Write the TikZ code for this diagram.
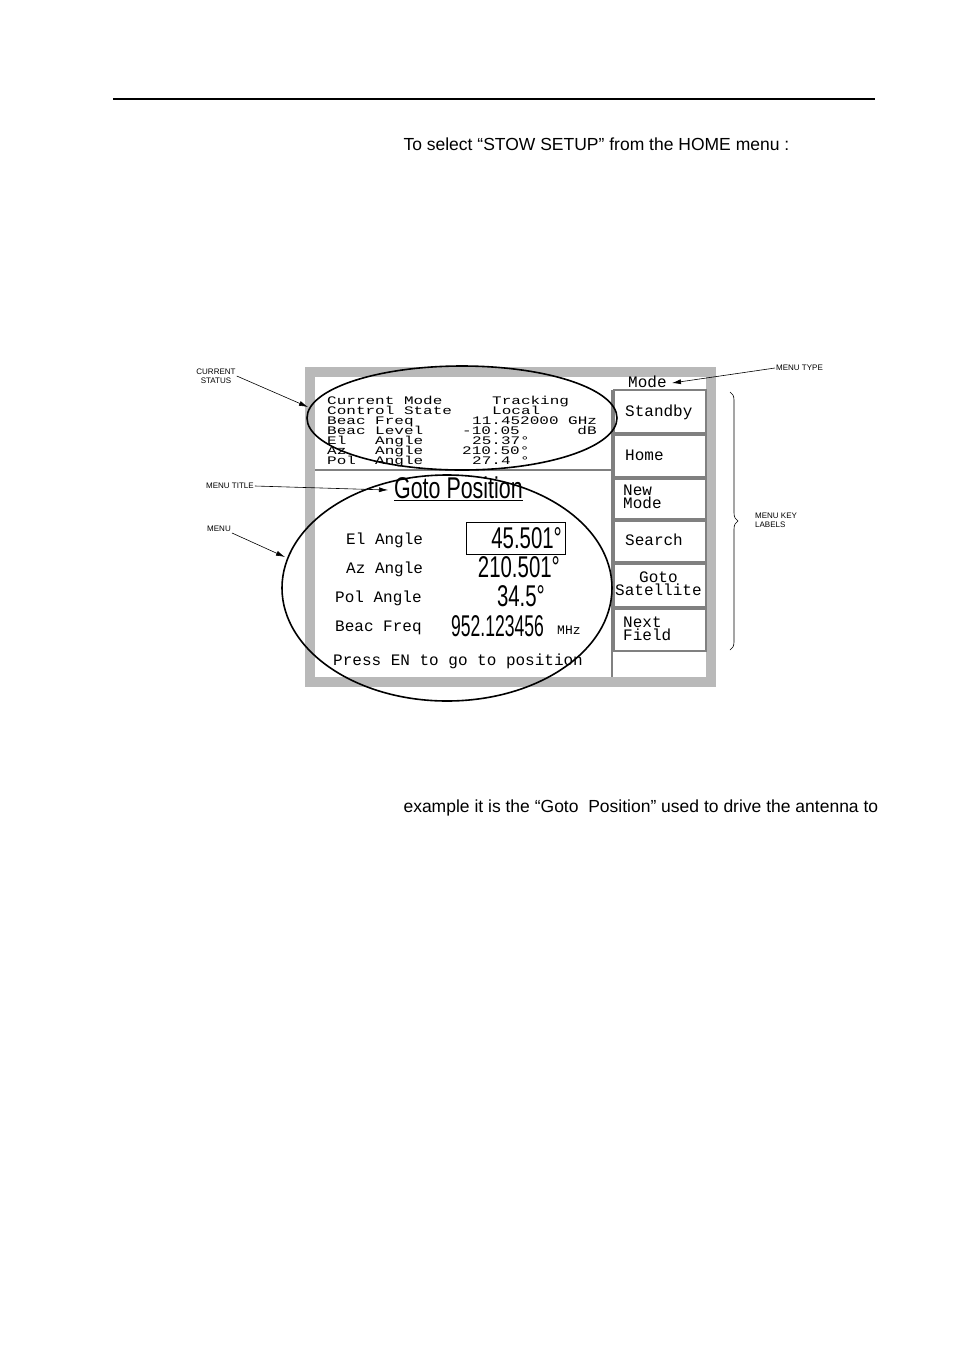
\documentclass[tikz,border=0pt]{standalone}
\usepackage{fontspec}
\setmainfont{Liberation Sans}
\newfontfamily\scrfont{Liberation Mono}
\usetikzlibrary{decorations.pathreplacing, arrows.meta}
\tikzset{
  note/.style={font=\fontsize{8}{9}\selectfont, align=center, inner sep=1pt},
  scr/.style={font=\scrfont\fontsize{16}{16}\selectfont, anchor=west, inner sep=0pt},
  twoline/.style={scr, font=\scrfont\fontsize{16}{10}\selectfont},
  stat/.style={scr, yscale=0.72, anchor=base west},
  big/.style={font=\fontsize{30}{30}\selectfont, xscale=0.68, inner sep=0pt},
  keybox/.style={draw=gray, line width=1.2pt},
  pointer/.style={-{Latex[length=9pt,width=5pt]}, semithick}
}
\begin{document}
\begin{tikzpicture}[x=1pt,y=-1pt]
        \useasboundingbox (0,0) rectangle (954,1350);

        % Rule and page texts
        \draw[line width=1.5pt] (113,99) -- (875,99);
        \node[anchor=west, font=\fontsize{17.5}{18}\selectfont] (intro) at (400,144) {To select “STOW SETUP” from the HOME menu :};
        \node[anchor=west, font=\fontsize{17.5}{18}\selectfont] (expl) at (400,808) {example it is the “Goto\ \ Position” used to drive the antenna to};

        % Screen frame
        \fill[gray!55] (305,367) rectangle (716,687);
        \fill[white] (315,377) rectangle (706,677);
        \draw[gray, line width=1.2pt] (315,470) -- (612,470);
        \draw[gray, line width=1.2pt] (612,390) -- (612,677);

        % Menu keys
        \foreach \ya/\yb in {390/433, 435/477, 479/519, 521/562, 564/607, 609/651}
            \draw[keybox] (614,\ya) rectangle (706,\yb);
        \node[scr] (mode) at (628,382) {Mode};
        \node[scr] (kstandby) at (625,412) {Standby};
        \node[scr] (khome) at (625,455) {Home};
        \node[twoline, align=left] (knew) at (623,497) {New\\Mode};
        \node[scr] (ksearch) at (625,540) {Search};
        \node[twoline, align=center] (kgoto) at (615,584) {Goto\\Satellite};
        \node[twoline, align=left] (knext) at (623,629) {Next\\Field};

        % Status lines
        \node[stat] (s1) at (327,404) {Current Mode};
        \node[stat] (s2) at (327,414) {Control State};
        \node[stat] (s3) at (327,424) {Beac Freq};
        \node[stat] (s4) at (327,434) {Beac Level};
        \node[stat] (s5) at (327,444) {El\ \ \ Angle};
        \node[stat] (s6) at (327,454) {Az\ \ \ Angle};
        \node[stat] (s7) at (327,464) {Pol\ \ Angle};
        \node[stat] (v1) at (492,404) {Tracking};
        \node[stat] (v2) at (492,414) {Local};
        \node[stat] (v3) at (472,424) {11.452000 GHz};
        \node[stat] (v4) at (462,434) {-10.05\ \ \ \ \ \ dB};
        \node[stat] (v5) at (472,444) {25.37°};
        \node[stat] (v6) at (462,454) {210.50°};
        \node[stat] (v7) at (472,464) {27.4 °};

        % Menu
        \node[big, xscale=1.05, anchor=west] (title) at (394,489) {\underline{Goto Position}};
        \node[scr] (m1) at (346,540) {El Angle};
        \node[scr] (m2) at (346,569) {Az Angle};
        \node[scr] (m3) at (335,598) {Pol Angle};
        \node[scr] (m4) at (335,628) {Beac Freq};
        \draw (466,522) rectangle (565,554);
        \node[big, anchor=east] (n1) at (562,538) {45.501°};
        \node[big, anchor=east] (n2) at (560,567) {210.501°};
        \node[big, anchor=east] (n3) at (545,596) {34.5°};
        \node[big, xscale=0.86, anchor=west] (n4) at (451,626) {952.123456};
        \node[scr, font=\scrfont\fontsize{13}{13}\selectfont] (mhz) at (557,630) {MHz};
        \node[scr] (press) at (333,661) {Press EN to go to position};

        % Ellipses
        \draw[line width=1.6pt] (462,418) ellipse [x radius=155, y radius=52];
        \draw[line width=1.6pt] (447,588) ellipse [x radius=165, y radius=113];

        % Annotations
        \node[note] (cstatus) at (216,376) {CURRENT\\STATUS};
        \node[note] (mtitle) at (230,486) {MENU TITLE};
        \node[note] (menu) at (219,529) {MENU};
        \node[note, anchor=west] (mtype) at (775,368) {MENU TYPE};
        \node[note, align=left, anchor=west] (mkeys) at (754,520) {MENU KEY\\LABELS};
        \coordinate (cst) at (308,407);
        \coordinate (mtt) at (388,490);
        \coordinate (mnu) at (285,557);
        \coordinate (mtp) at (672,383);
        \draw[pointer] (cstatus.east) -- (cst);
        \draw[pointer] (mtitle.east) -- (mtt);
        \draw[pointer] (menu.south east) -- (mnu);
        \draw[pointer] (mtype.west) -- (mtp);
        \draw[semithick, decorate, decoration={brace, amplitude=8pt}] (730,392) -- (730,650);
\end{tikzpicture}
\end{document}
